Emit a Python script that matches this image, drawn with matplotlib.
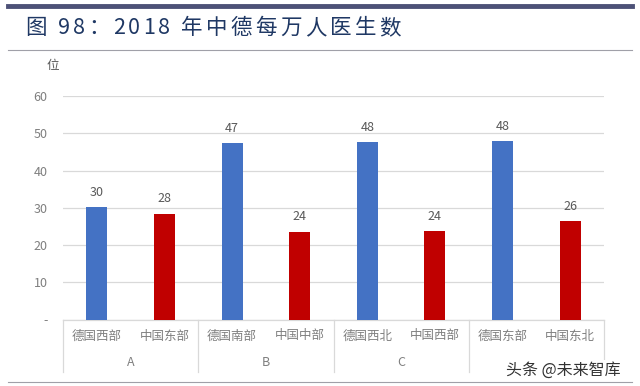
import matplotlib
matplotlib.use('Agg')
import matplotlib.pyplot as plt
from matplotlib.lines import Line2D
import matplotlib.transforms as mtransforms

plt.rcParams['font.family'] = ['Noto Sans CJK SC', 'DejaVu Sans']

# data
regions = ['德国西部', '中国东部', '德国南部', '中国中部',
           '德国西北', '中国西部', '德国东部', '中国东北']
groups = ['A', 'B', 'C', '']
doctors = [30.2, 28.4, 47.3, 23.6, 47.6, 23.8, 47.9, 26.4]
yticks = [0, 10, 20, 30, 40, 50, 60]
ytick_labels = ['-', '10', '20', '30', '40', '50', '60']
title = '图 98：2018 年中德每万人医生数'

W, H = 640, 386
blue = '#4472C4'
red = '#C00000'
grey_text = '#7f7f7f'
grid_c = '#d9d9d9'


def spaced_text(fig, x0, y, s, spacing, **kw):
    """Write s char by char from pixel x0, adding spacing px after each char."""
    r = fig.canvas.get_renderer()
    x = x0
    for ch in s:
        t = fig.text(x / W, 1 - y / H, ch, ha='left', va='center', **kw)
        w = t.get_window_extent(renderer=r).width
        x += w + spacing


fig = plt.figure(figsize=(W / 100, H / 100), dpi=100)

# header lines and title
fig.add_artist(Line2D([8 / W, 632 / W], [1 - 6 / H, 1 - 6 / H], color='#4d5177', lw=3.5))
fig.add_artist(Line2D([8 / W, 632 / W], [1 - 50 / H, 1 - 50 / H], color='#a0a0a8', lw=0.8))
fig.add_artist(Line2D([8 / W, 632 / W], [1 - 382 / H, 1 - 382 / H], color='#a0a0a8', lw=0.8))
spaced_text(fig, 25, 28, title, 3.2, fontsize=15.5, color='#1f3864')

left, right, top, bottom = 63, 604, 96, 319.5
ax = fig.add_axes([left / W, 1 - bottom / H, (right - left) / W, (bottom - top) / H])

x = list(range(len(regions)))
colors = [blue if i % 2 == 0 else red for i in x]
bars = ax.bar(x, doctors, width=0.31, color=colors, zorder=3)
for rect, v in zip(bars, doctors):
    ax.annotate('%d' % round(v), xy=(rect.get_x() + rect.get_width() / 2, v),
                xytext=(0, 6), textcoords='offset points', ha='center', va='bottom',
                fontsize=9, color='#595959')

ax.set_xlim(-0.5, len(regions) - 0.5)
ax.set_ylim(0, 60)
ax.set_yticks(yticks)
ax.set_yticklabels(ytick_labels, fontsize=9, color=grey_text)
ax.set_xticks([])
ax.tick_params(axis='y', length=0, pad=11)
ax.grid(axis='y', color=grid_c, lw=0.9, zorder=0)
for s in ['top', 'right', 'left']:
    ax.spines[s].set_visible(False)
ax.spines['bottom'].set_color(grid_c)
ax.spines['bottom'].set_linewidth(0.9)

ax.text(-0.008, 1.135, '位', transform=ax.transAxes, fontsize=9, color='#595959',
        ha='right', va='center')

# multi-level category axis
trans = mtransforms.blended_transform_factory(ax.transData, fig.transFigure)
for i, r in enumerate(regions):
    ax.text(i, 1 - 336 / H, r, transform=trans, ha='center', va='center',
            fontsize=9, color=grey_text)
for g, name in enumerate(groups):
    ax.text(2 * g + 0.5, 1 - 362 / H, name, transform=trans, ha='center', va='center',
            fontsize=9, color=grey_text)
for b in range(len(groups) + 1):
    xb = 2 * b - 0.5
    fig.add_artist(Line2D([xb, xb], [1 - 320 / H, 1 - 372 / H], transform=trans,
                          color=grid_c, lw=0.9))

# watermark
fig.text(621 / W, 1 - 370 / H, '头条 @未来智库', fontsize=11.5, color='#333333',
         ha='right', va='center',
         bbox=dict(facecolor='white', edgecolor='none', pad=1))

fig.savefig('out.png', dpi=100)
